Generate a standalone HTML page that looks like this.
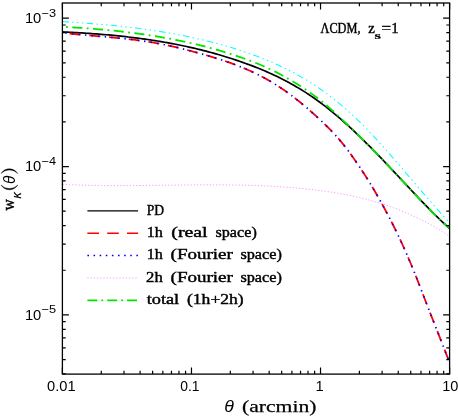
<!DOCTYPE html>
<html><head><meta charset="utf-8"><title>plot</title>
<style>
html,body{margin:0;padding:0;background:#fff}
svg{display:block;will-change:transform;transform:translateZ(0)}
.sans{font-family:"Liberation Sans",sans-serif;fill:#000}
.serif{font-family:"Liberation Serif",serif;fill:#000;stroke:#000;stroke-width:0.4px}
.it{font-style:italic}
</style></head><body>
<svg width="458" height="417" viewBox="0 0 458 417">
<rect width="100%" height="100%" fill="#fff"/>
<defs><clipPath id="c"><rect x="62.40" y="3.00" width="387.20" height="371.10"/></clipPath></defs>
<g clip-path="url(#c)" fill="none">
<path d="M62.40,184.37 L64.84,184.49 L67.27,184.60 L69.71,184.70 L72.14,184.80 L74.58,184.90 L77.01,184.98 L79.45,185.06 L81.88,185.13 L84.32,185.20 L86.75,185.26 L89.19,185.32 L91.62,185.37 L94.06,185.42 L96.49,185.46 L98.93,185.49 L101.36,185.52 L103.80,185.55 L106.23,185.57 L108.67,185.59 L111.10,185.60 L113.54,185.61 L115.97,185.62 L118.41,185.62 L120.85,185.62 L123.28,185.62 L125.72,185.61 L128.15,185.60 L130.59,185.59 L133.02,185.58 L135.46,185.56 L137.89,185.54 L140.33,185.52 L142.76,185.50 L145.20,185.47 L147.63,185.45 L150.07,185.42 L152.50,185.39 L154.94,185.36 L157.37,185.33 L159.81,185.30 L162.24,185.27 L164.68,185.24 L167.11,185.21 L169.55,185.18 L171.98,185.15 L174.42,185.12 L176.86,185.09 L179.29,185.06 L181.73,185.03 L184.16,185.01 L186.60,184.98 L189.03,184.96 L191.47,184.93 L193.90,184.91 L196.34,184.90 L198.77,184.88 L201.21,184.87 L203.64,184.85 L206.08,184.85 L208.51,184.84 L210.95,184.84 L213.38,184.84 L215.82,184.84 L218.25,184.85 L220.69,184.86 L223.12,184.88 L225.56,184.90 L227.99,184.92 L230.43,184.95 L232.87,184.98 L235.30,185.02 L237.74,185.06 L240.17,185.10 L242.61,185.16 L245.04,185.21 L247.48,185.28 L249.91,185.35 L252.35,185.42 L254.78,185.50 L257.22,185.59 L259.65,185.69 L262.09,185.79 L264.52,185.89 L266.96,186.01 L269.39,186.13 L271.83,186.26 L274.26,186.40 L276.70,186.54 L279.13,186.69 L281.57,186.85 L284.01,187.02 L286.44,187.20 L288.88,187.38 L291.31,187.57 L293.75,187.78 L296.18,187.99 L298.62,188.21 L301.05,188.44 L303.49,188.68 L305.92,188.93 L308.36,189.19 L310.79,189.46 L313.23,189.74 L315.66,190.03 L318.10,190.33 L320.53,190.64 L322.97,190.97 L325.40,191.31 L327.84,191.66 L330.27,192.02 L332.71,192.40 L335.14,192.80 L337.58,193.20 L340.02,193.63 L342.45,194.07 L344.89,194.52 L347.32,195.00 L349.76,195.49 L352.19,195.99 L354.63,196.52 L357.06,197.06 L359.50,197.62 L361.93,198.21 L364.37,198.81 L366.80,199.43 L369.24,200.07 L371.67,200.74 L374.11,201.43 L376.54,202.13 L378.98,202.87 L381.41,203.62 L383.85,204.40 L386.28,205.20 L388.72,206.03 L391.15,206.89 L393.59,207.77 L396.03,208.67 L398.46,209.61 L400.90,210.57 L403.33,211.56 L405.77,212.58 L408.20,213.63 L410.64,214.70 L413.07,215.81 L415.51,216.95 L417.94,218.12 L420.38,219.32 L422.81,220.56 L425.25,221.82 L427.68,223.13 L430.12,224.46 L432.55,225.83 L434.99,227.23 L437.42,228.68 L439.86,230.15 L442.29,231.67 L444.73,233.22 L447.16,234.80 L449.60,236.43" stroke="#ff96ff" stroke-width="1" stroke-dasharray="1.3 1.9"/>
<path d="M62.40,21.58 L64.84,21.73 L67.27,21.89 L69.71,22.05 L72.14,22.21 L74.58,22.38 L77.01,22.55 L79.45,22.72 L81.88,22.90 L84.32,23.08 L86.75,23.26 L89.19,23.45 L91.62,23.64 L94.06,23.84 L96.49,24.04 L98.93,24.25 L101.36,24.46 L103.80,24.67 L106.23,24.89 L108.67,25.12 L111.10,25.35 L113.54,25.59 L115.97,25.84 L118.41,26.09 L120.85,26.35 L123.28,26.61 L125.72,26.88 L128.15,27.16 L130.59,27.44 L133.02,27.73 L135.46,28.03 L137.89,28.34 L140.33,28.66 L142.76,28.98 L145.20,29.31 L147.63,29.65 L150.07,30.00 L152.50,30.35 L154.94,30.72 L157.37,31.09 L159.81,31.47 L162.24,31.87 L164.68,32.27 L167.11,32.68 L169.55,33.10 L171.98,33.53 L174.42,33.97 L176.86,34.43 L179.29,34.89 L181.73,35.36 L184.16,35.85 L186.60,36.34 L189.03,36.85 L191.47,37.37 L193.90,37.90 L196.34,38.44 L198.77,38.99 L201.21,39.56 L203.64,40.14 L206.08,40.73 L208.51,41.33 L210.95,41.95 L213.38,42.58 L215.82,43.22 L218.25,43.88 L220.69,44.55 L223.12,45.23 L225.56,45.93 L227.99,46.64 L230.43,47.36 L232.87,48.10 L235.30,48.86 L237.74,49.62 L240.17,50.41 L242.61,51.21 L245.04,52.02 L247.48,52.85 L249.91,53.70 L252.35,54.57 L254.78,55.46 L257.22,56.36 L259.65,57.29 L262.09,58.24 L264.52,59.20 L266.96,60.20 L269.39,61.21 L271.83,62.25 L274.26,63.31 L276.70,64.40 L279.13,65.52 L281.57,66.66 L284.01,67.83 L286.44,69.03 L288.88,70.26 L291.31,71.52 L293.75,72.81 L296.18,74.13 L298.62,75.48 L301.05,76.87 L303.49,78.29 L305.92,79.74 L308.36,81.23 L310.79,82.75 L313.23,84.32 L315.66,85.91 L318.10,87.55 L320.53,89.23 L322.97,90.94 L325.40,92.70 L327.84,94.50 L330.27,96.33 L332.71,98.21 L335.14,100.13 L337.58,102.10 L340.02,104.10 L342.45,106.15 L344.89,108.24 L347.32,110.38 L349.76,112.56 L352.19,114.78 L354.63,117.05 L357.06,119.36 L359.50,121.72 L361.93,124.13 L364.37,126.58 L366.80,129.08 L369.24,131.61 L371.67,134.18 L374.11,136.78 L376.54,139.42 L378.98,142.09 L381.41,144.79 L383.85,147.51 L386.28,150.25 L388.72,153.02 L391.15,155.80 L393.59,158.60 L396.03,161.41 L398.46,164.24 L400.90,167.07 L403.33,169.91 L405.77,172.76 L408.20,175.61 L410.64,178.47 L413.07,181.32 L415.51,184.17 L417.94,187.01 L420.38,189.85 L422.81,192.68 L425.25,195.50 L427.68,198.31 L430.12,201.10 L432.55,203.88 L434.99,206.64 L437.42,209.37 L439.86,212.09 L442.29,214.78 L444.73,217.44 L447.16,220.07 L449.60,222.67" stroke="#00ffff" stroke-width="1.05" stroke-dasharray="6.5 3.4 1.4 3.4 1.4 3.4 1.4 3.4"/>
<path d="M62.40,31.89 L64.84,32.01 L67.27,32.13 L69.71,32.25 L72.14,32.38 L74.58,32.52 L77.01,32.65 L79.45,32.80 L81.88,32.95 L84.32,33.10 L86.75,33.26 L89.19,33.43 L91.62,33.60 L94.06,33.78 L96.49,33.96 L98.93,34.15 L101.36,34.34 L103.80,34.55 L106.23,34.76 L108.67,34.97 L111.10,35.20 L113.54,35.43 L115.97,35.67 L118.41,35.91 L120.85,36.16 L123.28,36.43 L125.72,36.70 L128.15,36.97 L130.59,37.26 L133.02,37.55 L135.46,37.86 L137.89,38.17 L140.33,38.49 L142.76,38.82 L145.20,39.16 L147.63,39.51 L150.07,39.87 L152.50,40.24 L154.94,40.62 L157.37,41.01 L159.81,41.41 L162.24,41.82 L164.68,42.24 L167.11,42.67 L169.55,43.12 L171.98,43.57 L174.42,44.04 L176.86,44.51 L179.29,45.00 L181.73,45.50 L184.16,46.02 L186.60,46.54 L189.03,47.08 L191.47,47.63 L193.90,48.19 L196.34,48.76 L198.77,49.35 L201.21,49.95 L203.64,50.57 L206.08,51.19 L208.51,51.83 L210.95,52.49 L213.38,53.16 L215.82,53.84 L218.25,54.54 L220.69,55.25 L223.12,55.98 L225.56,56.72 L227.99,57.47 L230.43,58.25 L232.87,59.03 L235.30,59.83 L237.74,60.65 L240.17,61.48 L242.61,62.33 L245.04,63.20 L247.48,64.08 L249.91,64.98 L252.35,65.90 L254.78,66.85 L257.22,67.81 L259.65,68.79 L262.09,69.80 L264.52,70.82 L266.96,71.88 L269.39,72.96 L271.83,74.06 L274.26,75.19 L276.70,76.35 L279.13,77.53 L281.57,78.74 L284.01,79.99 L286.44,81.26 L288.88,82.57 L291.31,83.90 L293.75,85.28 L296.18,86.68 L298.62,88.12 L301.05,89.59 L303.49,91.10 L305.92,92.65 L308.36,94.23 L310.79,95.86 L313.23,97.52 L315.66,99.22 L318.10,100.97 L320.53,102.75 L322.97,104.58 L325.40,106.45 L327.84,108.36 L330.27,110.31 L332.71,112.30 L335.14,114.32 L337.58,116.38 L340.02,118.47 L342.45,120.60 L344.89,122.77 L347.32,124.96 L349.76,127.18 L352.19,129.44 L354.63,131.72 L357.06,134.03 L359.50,136.37 L361.93,138.74 L364.37,141.12 L366.80,143.54 L369.24,145.97 L371.67,148.43 L374.11,150.91 L376.54,153.40 L378.98,155.92 L381.41,158.45 L383.85,161.00 L386.28,163.57 L388.72,166.14 L391.15,168.73 L393.59,171.32 L396.03,173.92 L398.46,176.52 L400.90,179.13 L403.33,181.74 L405.77,184.34 L408.20,186.94 L410.64,189.54 L413.07,192.12 L415.51,194.70 L417.94,197.27 L420.38,199.82 L422.81,202.35 L425.25,204.87 L427.68,207.37 L430.12,209.85 L432.55,212.30 L434.99,214.73 L437.42,217.13 L439.86,219.50 L442.29,221.84 L444.73,224.14 L447.16,226.41 L449.60,228.64" stroke="#000" stroke-width="1.7"/>
<path d="M62.40,26.74 L64.84,26.88 L67.27,27.02 L69.71,27.17 L72.14,27.32 L74.58,27.48 L77.01,27.64 L79.45,27.80 L81.88,27.97 L84.32,28.14 L86.75,28.32 L89.19,28.51 L91.62,28.70 L94.06,28.89 L96.49,29.09 L98.93,29.30 L101.36,29.52 L103.80,29.74 L106.23,29.96 L108.67,30.20 L111.10,30.44 L113.54,30.68 L115.97,30.94 L118.41,31.20 L120.85,31.47 L123.28,31.74 L125.72,32.03 L128.15,32.32 L130.59,32.62 L133.02,32.93 L135.46,33.25 L137.89,33.57 L140.33,33.91 L142.76,34.25 L145.20,34.60 L147.63,34.96 L150.07,35.34 L152.50,35.72 L154.94,36.11 L157.37,36.51 L159.81,36.92 L162.24,37.34 L164.68,37.77 L167.11,38.21 L169.55,38.66 L171.98,39.12 L174.42,39.60 L176.86,40.08 L179.29,40.58 L181.73,41.09 L184.16,41.60 L186.60,42.14 L189.03,42.68 L191.47,43.23 L193.90,43.80 L196.34,44.38 L198.77,44.97 L201.21,45.58 L203.64,46.20 L206.08,46.83 L208.51,47.47 L210.95,48.13 L213.38,48.80 L215.82,49.49 L218.25,50.19 L220.69,50.90 L223.12,51.63 L225.56,52.37 L227.99,53.13 L230.43,53.90 L232.87,54.69 L235.30,55.49 L237.74,56.30 L240.17,57.14 L242.61,57.98 L245.04,58.85 L247.48,59.73 L249.91,60.64 L252.35,61.56 L254.78,62.51 L257.22,63.49 L259.65,64.49 L262.09,65.52 L264.52,66.59 L266.96,67.68 L269.39,68.81 L271.83,69.97 L274.26,71.17 L276.70,72.40 L279.13,73.68 L281.57,75.00 L284.01,76.36 L286.44,77.75 L288.88,79.16 L291.31,80.60 L293.75,82.06 L296.18,83.54 L298.62,85.05 L301.05,86.60 L303.49,88.17 L305.92,89.78 L308.36,91.44 L310.79,93.13 L313.23,94.88 L315.66,96.68 L318.10,98.53 L320.53,100.43 L322.97,102.40 L325.40,104.42 L327.84,106.50 L330.27,108.62 L332.71,110.78 L335.14,112.98 L337.58,115.22 L340.02,117.49 L342.45,119.78 L344.89,122.10 L347.32,124.44 L349.76,126.79 L352.19,129.15 L354.63,131.52 L357.06,133.90 L359.50,136.30 L361.93,138.71 L364.37,141.13 L366.80,143.56 L369.24,146.02 L371.67,148.48 L374.11,150.97 L376.54,153.47 L378.98,155.99 L381.41,158.53 L383.85,161.09 L386.28,163.67 L388.72,166.25 L391.15,168.85 L393.59,171.46 L396.03,174.07 L398.46,176.69 L400.90,179.31 L403.33,181.93 L405.77,184.55 L408.20,187.16 L410.64,189.76 L413.07,192.35 L415.51,194.93 L417.94,197.49 L420.38,200.04 L422.81,202.57 L425.25,205.07 L427.68,207.55 L430.12,210.00 L432.55,212.42 L434.99,214.82 L437.42,217.17 L439.86,219.49 L442.29,221.78 L444.73,224.02 L447.16,226.21 L449.60,228.36" stroke="#00e600" stroke-width="1.8" stroke-dasharray="10 4.5 1.8 4.5" stroke-dashoffset="10.9"/>
<path d="M62.40,32.67 L64.84,32.95 L67.27,33.23 L69.71,33.50 L72.14,33.76 L74.58,34.01 L77.01,34.25 L79.45,34.49 L81.88,34.72 L84.32,34.95 L86.75,35.18 L89.19,35.40 L91.62,35.61 L94.06,35.83 L96.49,36.05 L98.93,36.26 L101.36,36.48 L103.80,36.69 L106.23,36.91 L108.67,37.13 L111.10,37.36 L113.54,37.59 L115.97,37.82 L118.41,38.06 L120.85,38.31 L123.28,38.57 L125.72,38.83 L128.15,39.10 L130.59,39.38 L133.02,39.67 L135.46,39.97 L137.89,40.28 L140.33,40.61 L142.76,40.95 L145.20,41.30 L147.63,41.67 L150.07,42.05 L152.50,42.45 L154.94,42.87 L157.37,43.31 L159.81,43.76 L162.24,44.23 L164.68,44.72 L167.11,45.23 L169.55,45.76 L171.98,46.30 L174.42,46.86 L176.86,47.43 L179.29,48.02 L181.73,48.62 L184.16,49.23 L186.60,49.86 L189.03,50.50 L191.47,51.14 L193.90,51.80 L196.34,52.47 L198.77,53.14 L201.21,53.82 L203.64,54.51 L206.08,55.21 L208.51,55.92 L210.95,56.64 L213.38,57.37 L215.82,58.12 L218.25,58.88 L220.69,59.66 L223.12,60.45 L225.56,61.27 L227.99,62.11 L230.43,62.97 L232.87,63.85 L235.30,64.76 L237.74,65.69 L240.17,66.65 L242.61,67.64 L245.04,68.66 L247.48,69.71 L249.91,70.79 L252.35,71.90 L254.78,73.06 L257.22,74.24 L259.65,75.47 L262.09,76.73 L264.52,78.03 L266.96,79.38 L269.39,80.76 L271.83,82.20 L274.26,83.67 L276.70,85.20 L279.13,86.77 L281.57,88.39 L284.01,90.06 L286.44,91.77 L288.88,93.54 L291.31,95.35 L293.75,97.20 L296.18,99.10 L298.62,101.04 L301.05,103.02 L303.49,105.04 L305.92,107.10 L308.36,109.19 L310.79,111.33 L313.23,113.49 L315.66,115.70 L318.10,117.93 L320.53,120.20 L322.97,122.50 L325.40,124.85 L327.84,127.25 L330.27,129.71 L332.71,132.25 L335.14,134.88 L337.58,137.60 L340.02,140.43 L342.45,143.38 L344.89,146.43 L347.32,149.59 L349.76,152.85 L352.19,156.21 L354.63,159.65 L357.06,163.18 L359.50,166.78 L361.93,170.46 L364.37,174.22 L366.80,178.06 L369.24,181.98 L371.67,185.98 L374.11,190.06 L376.54,194.24 L378.98,198.50 L381.41,202.85 L383.85,207.29 L386.28,211.83 L388.72,216.46 L391.15,221.19 L393.59,226.02 L396.03,230.96 L398.46,236.01 L400.90,241.19 L403.33,246.50 L405.77,251.94 L408.20,257.53 L410.64,263.26 L413.07,269.15 L415.51,275.21 L417.94,281.39 L420.38,287.66 L422.81,293.97 L425.25,300.29 L427.68,306.58 L430.12,312.82 L432.55,319.02 L434.99,325.21 L437.42,331.40 L439.86,337.61 L442.29,343.84 L444.73,350.08 L447.16,356.33 L449.60,362.58" stroke="#ff0000" stroke-width="1.8" stroke-dasharray="11 8.8" stroke-dashoffset="-7.3"/>
<path d="M62.40,32.67 L64.84,32.95 L67.27,33.23 L69.71,33.50 L72.14,33.76 L74.58,34.01 L77.01,34.25 L79.45,34.49 L81.88,34.72 L84.32,34.95 L86.75,35.18 L89.19,35.40 L91.62,35.61 L94.06,35.83 L96.49,36.05 L98.93,36.26 L101.36,36.48 L103.80,36.69 L106.23,36.91 L108.67,37.13 L111.10,37.36 L113.54,37.59 L115.97,37.82 L118.41,38.06 L120.85,38.31 L123.28,38.57 L125.72,38.83 L128.15,39.10 L130.59,39.38 L133.02,39.67 L135.46,39.97 L137.89,40.28 L140.33,40.61 L142.76,40.95 L145.20,41.30 L147.63,41.67 L150.07,42.05 L152.50,42.45 L154.94,42.87 L157.37,43.31 L159.81,43.76 L162.24,44.23 L164.68,44.72 L167.11,45.23 L169.55,45.76 L171.98,46.30 L174.42,46.86 L176.86,47.43 L179.29,48.02 L181.73,48.62 L184.16,49.23 L186.60,49.86 L189.03,50.50 L191.47,51.14 L193.90,51.80 L196.34,52.47 L198.77,53.14 L201.21,53.82 L203.64,54.51 L206.08,55.21 L208.51,55.92 L210.95,56.64 L213.38,57.37 L215.82,58.12 L218.25,58.88 L220.69,59.66 L223.12,60.45 L225.56,61.27 L227.99,62.11 L230.43,62.97 L232.87,63.85 L235.30,64.76 L237.74,65.69 L240.17,66.65 L242.61,67.64 L245.04,68.66 L247.48,69.71 L249.91,70.79 L252.35,71.90 L254.78,73.06 L257.22,74.24 L259.65,75.47 L262.09,76.73 L264.52,78.03 L266.96,79.38 L269.39,80.76 L271.83,82.20 L274.26,83.67 L276.70,85.20 L279.13,86.77 L281.57,88.39 L284.01,90.06 L286.44,91.77 L288.88,93.54 L291.31,95.35 L293.75,97.20 L296.18,99.10 L298.62,101.04 L301.05,103.02 L303.49,105.04 L305.92,107.10 L308.36,109.19 L310.79,111.33 L313.23,113.49 L315.66,115.70 L318.10,117.93 L320.53,120.20 L322.97,122.50 L325.40,124.85 L327.84,127.25 L330.27,129.71 L332.71,132.25 L335.14,134.88 L337.58,137.60 L340.02,140.43 L342.45,143.38 L344.89,146.43 L347.32,149.59 L349.76,152.85 L352.19,156.21 L354.63,159.65 L357.06,163.18 L359.50,166.78 L361.93,170.46 L364.37,174.22 L366.80,178.06 L369.24,181.98 L371.67,185.98 L374.11,190.06 L376.54,194.24 L378.98,198.50 L381.41,202.85 L383.85,207.29 L386.28,211.83 L388.72,216.46 L391.15,221.19 L393.59,226.02 L396.03,230.96 L398.46,236.01 L400.90,241.19 L403.33,246.50 L405.77,251.94 L408.20,257.53 L410.64,263.26 L413.07,269.15 L415.51,275.21 L417.94,281.39 L420.38,287.66 L422.81,293.97 L425.25,300.29 L427.68,306.58 L430.12,312.82 L432.55,319.02 L434.99,325.21 L437.42,331.40 L439.86,337.61 L442.29,343.84 L444.73,350.08 L447.16,356.33 L449.60,362.58" stroke="#0000ff" stroke-width="1.7" stroke-dasharray="1.4 5.2" stroke-dashoffset="-2.9"/>
</g>
<rect x="62.40" y="3.00" width="387.20" height="371.10" fill="none" stroke="#000" stroke-width="1.3"/>
<path d="M62.40,374.10v-6.50M62.40,3.00v6.50M101.25,374.10v-3.30M101.25,3.00v3.30M123.98,374.10v-3.30M123.98,3.00v3.30M140.11,374.10v-3.30M140.11,3.00v3.30M152.61,374.10v-3.30M152.61,3.00v3.30M162.83,374.10v-3.30M162.83,3.00v3.30M171.47,374.10v-3.30M171.47,3.00v3.30M178.96,374.10v-3.30M178.96,3.00v3.30M185.56,374.10v-3.30M185.56,3.00v3.30M191.47,374.10v-6.50M191.47,3.00v6.50M230.32,374.10v-3.30M230.32,3.00v3.30M253.05,374.10v-3.30M253.05,3.00v3.30M269.17,374.10v-3.30M269.17,3.00v3.30M281.68,374.10v-3.30M281.68,3.00v3.30M291.90,374.10v-3.30M291.90,3.00v3.30M300.54,374.10v-3.30M300.54,3.00v3.30M308.03,374.10v-3.30M308.03,3.00v3.30M314.63,374.10v-3.30M314.63,3.00v3.30M320.53,374.10v-6.50M320.53,3.00v6.50M359.39,374.10v-3.30M359.39,3.00v3.30M382.11,374.10v-3.30M382.11,3.00v3.30M398.24,374.10v-3.30M398.24,3.00v3.30M410.75,374.10v-3.30M410.75,3.00v3.30M420.97,374.10v-3.30M420.97,3.00v3.30M429.61,374.10v-3.30M429.61,3.00v3.30M437.09,374.10v-3.30M437.09,3.00v3.30M443.69,374.10v-3.30M443.69,3.00v3.30M449.60,374.10v-6.50M449.60,3.00v6.50M62.40,373.93h3.30M449.60,373.93h-3.30M62.40,359.56h3.30M449.60,359.56h-3.30M62.40,347.81h3.30M449.60,347.81h-3.30M62.40,337.88h3.30M449.60,337.88h-3.30M62.40,329.28h3.30M449.60,329.28h-3.30M62.40,321.69h3.30M449.60,321.69h-3.30M62.40,314.90h6.50M449.60,314.90h-6.50M62.40,270.24h3.30M449.60,270.24h-3.30M62.40,244.12h3.30M449.60,244.12h-3.30M62.40,225.58h3.30M449.60,225.58h-3.30M62.40,211.21h3.30M449.60,211.21h-3.30M62.40,199.46h3.30M449.60,199.46h-3.30M62.40,189.53h3.30M449.60,189.53h-3.30M62.40,180.93h3.30M449.60,180.93h-3.30M62.40,173.34h3.30M449.60,173.34h-3.30M62.40,166.55h6.50M449.60,166.55h-6.50M62.40,121.89h3.30M449.60,121.89h-3.30M62.40,95.77h3.30M449.60,95.77h-3.30M62.40,77.23h3.30M449.60,77.23h-3.30M62.40,62.86h3.30M449.60,62.86h-3.30M62.40,51.11h3.30M449.60,51.11h-3.30M62.40,41.18h3.30M449.60,41.18h-3.30M62.40,32.58h3.30M449.60,32.58h-3.30M62.40,24.99h3.30M449.60,24.99h-3.30M62.40,18.20h6.50M449.60,18.20h-6.50" stroke="#000" stroke-width="1.2" fill="none"/>
<text class="sans" x="47.00" y="390.90" font-size="14.3" textLength="28.60" lengthAdjust="spacingAndGlyphs">0.01</text>
<text class="sans" x="180.25" y="390.90" font-size="14.3" textLength="19.30" lengthAdjust="spacingAndGlyphs">0.1</text>
<text class="sans" x="315.50" y="390.90" font-size="14.3" textLength="8.20" lengthAdjust="spacingAndGlyphs">1</text>
<text class="sans" x="442.20" y="390.90" font-size="14.3" textLength="16.20" lengthAdjust="spacingAndGlyphs">10</text>
<text class="sans" x="24.90" y="22.80" font-size="14.3" textLength="16.40" lengthAdjust="spacingAndGlyphs">10</text>
<text class="sans" x="41.50" y="16.60" font-size="11.4" textLength="14.60" lengthAdjust="spacingAndGlyphs">−3</text>
<text class="sans" x="24.90" y="171.15" font-size="14.3" textLength="16.40" lengthAdjust="spacingAndGlyphs">10</text>
<text class="sans" x="41.50" y="164.95" font-size="11.4" textLength="14.60" lengthAdjust="spacingAndGlyphs">−4</text>
<text class="sans" x="24.90" y="319.50" font-size="14.3" textLength="16.40" lengthAdjust="spacingAndGlyphs">10</text>
<text class="sans" x="41.50" y="313.30" font-size="11.4" textLength="14.60" lengthAdjust="spacingAndGlyphs">−5</text>
<text class="sans it" x="224.30" y="411.60" font-size="16.5" textLength="9.60" lengthAdjust="spacingAndGlyphs">θ</text>
<text class="serif" x="242.00" y="411.50" font-size="17.6" textLength="74.50" lengthAdjust="spacingAndGlyphs" style="stroke-width:0.25px">(arcmin)</text>
<g transform="translate(14.4,210.3) rotate(-90)">
<text class="serif" x="-0.20" y="0.00" font-size="17" textLength="11.30" lengthAdjust="spacingAndGlyphs">w</text>
<text class="sans it" x="11.9" y="6.1" font-size="12.3" style="stroke:#000;stroke-width:0.2px">κ</text>
<text class="sans it" x="26.2" y="0.2" font-size="16" textLength="8.3" lengthAdjust="spacingAndGlyphs">θ</text>
</g>
<path d="M1,185.0 A9.8,9.8 0 0 0 17.8,185.0 A11.6,11.6 0 0 1 1,185.0Z M1,173.5 A9.8,9.8 0 0 1 17.7,173.5 A11.6,11.6 0 0 0 1,173.5Z" fill="#000" stroke="#000" stroke-width="0.4" stroke-linejoin="round"/>
<text class="serif" x="320.50" y="32.90" font-size="14.3" textLength="40.00" lengthAdjust="spacingAndGlyphs">ΛCDM,</text>
<text class="serif" x="368.20" y="32.90" font-size="14.3" textLength="6.60" lengthAdjust="spacingAndGlyphs">z</text>
<text class="serif" x="374.60" y="38.80" font-size="11.2" textLength="6.40" lengthAdjust="spacingAndGlyphs" font-weight="bold" style="stroke-width:0.2px">s</text>
<text class="serif" x="381.60" y="32.90" font-size="14.3" textLength="9.60" lengthAdjust="spacingAndGlyphs">=</text>
<text class="serif" x="391.20" y="32.90" font-size="14.3" textLength="7.40" lengthAdjust="spacingAndGlyphs">1</text>
<path d="M87.4,210.9H138.1" stroke="#000" stroke-width="1.4"/>
<path d="M87.4,233.3H138.1" stroke="#f00" stroke-width="1.6" stroke-dasharray="11.6 8.2"/>
<path d="M87.4,255.5H138.1" stroke="#00f" stroke-width="1.6" stroke-dasharray="1.6 4.52"/>
<path d="M87.4,278.0H138.1" stroke="#ff96ff" stroke-width="1" stroke-dasharray="1.3 1.9"/>
<path d="M87.4,300.4H138.1" stroke="#00e600" stroke-width="1.8" stroke-dasharray="10 4 1.8 4"/>
<text class="serif" x="146.7" y="214.7" font-size="14" textLength="17.4" lengthAdjust="spacingAndGlyphs">PD</text>
<text class="serif" x="146.7" y="237.1" font-size="14" textLength="16.1" lengthAdjust="spacingAndGlyphs">1h</text>
<text class="serif" x="171.3" y="237.1" font-size="14" textLength="36.3" lengthAdjust="spacingAndGlyphs">(real</text>
<text class="serif" x="215.5" y="237.1" font-size="14" textLength="41.3" lengthAdjust="spacingAndGlyphs">space)</text>
<text class="serif" x="146.7" y="259.3" font-size="14" textLength="16.1" lengthAdjust="spacingAndGlyphs">1h</text>
<text class="serif" x="170.6" y="259.3" font-size="14" textLength="62.3" lengthAdjust="spacingAndGlyphs">(Fourier</text>
<text class="serif" x="240.4" y="259.3" font-size="14" textLength="41.6" lengthAdjust="spacingAndGlyphs">space)</text>
<text class="serif" x="146.1" y="281.8" font-size="14" textLength="16.7" lengthAdjust="spacingAndGlyphs">2h</text>
<text class="serif" x="170.6" y="281.8" font-size="14" textLength="62.3" lengthAdjust="spacingAndGlyphs">(Fourier</text>
<text class="serif" x="240.4" y="281.8" font-size="14" textLength="41.6" lengthAdjust="spacingAndGlyphs">space)</text>
<text class="serif" x="146.7" y="304.2" font-size="14" textLength="32.5" lengthAdjust="spacingAndGlyphs">total</text>
<text class="serif" x="187.0" y="304.2" font-size="14" textLength="56.7" lengthAdjust="spacingAndGlyphs">(1h+2h)</text>
</svg></body></html>
